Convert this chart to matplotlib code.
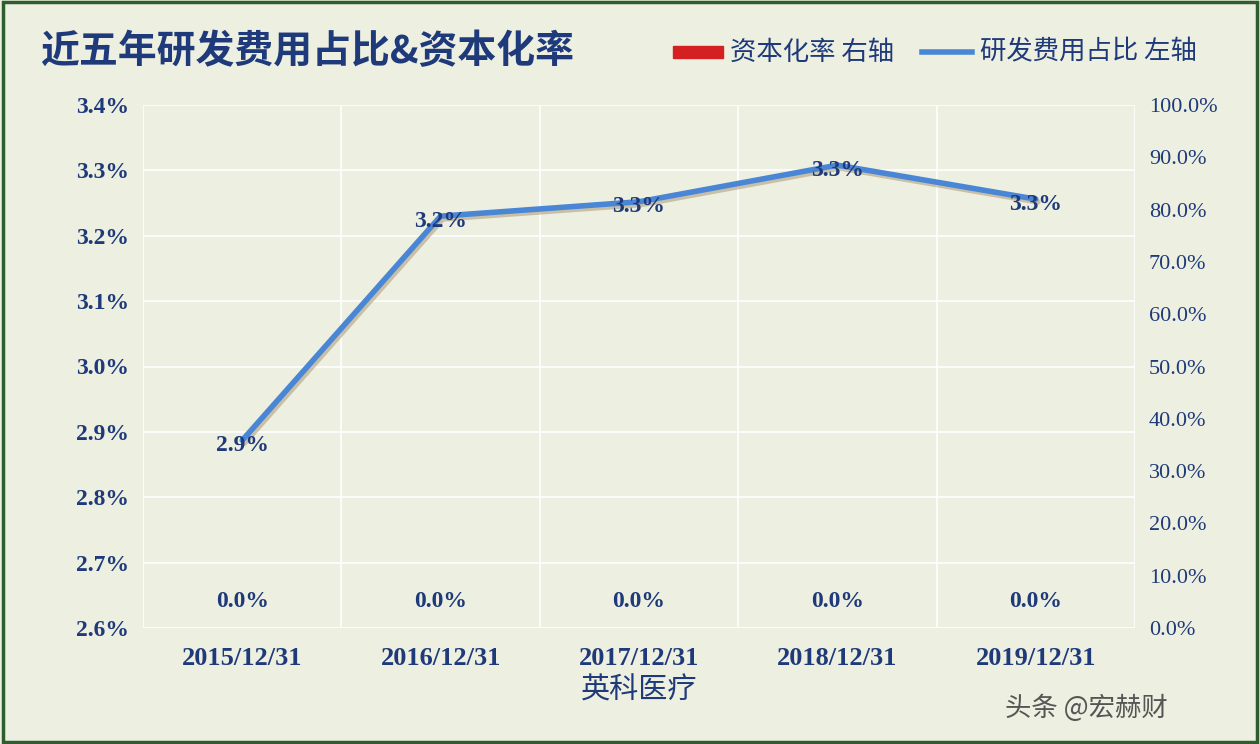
import matplotlib
matplotlib.use("Agg")
import matplotlib.pyplot as plt
import matplotlib.patheffects as pe

categories = ["2015/12/31", "2016/12/31", "2017/12/31", "2018/12/31", "2019/12/31"]
rd_ratio = [2.887, 3.230, 3.252, 3.308, 3.256]   # %, left axis
cap_rate = [0.0, 0.0, 0.0, 0.0, 0.0]              # %, right axis
left_ticks = [2.6, 2.7, 2.8, 2.9, 3.0, 3.1, 3.2, 3.3, 3.4]
right_ticks = [0, 10, 20, 30, 40, 50, 60, 70, 80, 90, 100]

bg = "#EDEFE0"
navy = "#1F3A7A"
blue = "#4A86D6"
serif = ["Liberation Serif", "Noto Sans CJK SC"]
cjk = ["Noto Sans CJK SC", "DejaVu Sans"]

fig = plt.figure(figsize=(12.6, 7.44), dpi=100, facecolor=bg)
fig.patches.append(plt.Rectangle((0.002, 0.003), 0.996, 0.994, transform=fig.transFigure,
                                 fill=False, edgecolor="#2E5E2E", lw=2.5))
ax = fig.add_axes([143/1260, 1-628/744, (1135-143)/1260, (628-105)/744])
ax.set_facecolor(bg)
ax2 = ax.twinx()
x = list(range(len(categories)))

ax2.bar(x, cap_rate, width=0.5, color="#D42020")
for xi, v in zip(x, cap_rate):
    ax2.text(xi, v + 5, f"{v:.1f}%", ha="center", va="center", fontsize=17,
             fontweight="bold", color=navy, family=serif)
ax2.set_ylim(0, 100)
ax2.set_yticks(right_ticks)
ax2.set_yticklabels([f"{t:.1f}%" for t in right_ticks], fontsize=16, color=navy, family=serif)

ax.set_zorder(ax2.get_zorder() + 1)
ax.patch.set_visible(False)
ax.plot(x, rd_ratio, color=blue, lw=4, solid_capstyle="round",
        path_effects=[pe.SimpleLineShadow(offset=(1.5, -2), shadow_color="#B0A080", alpha=0.6), pe.Normal()])
for xi, v in zip(x, rd_ratio):
    ax.text(xi, v - 0.008, f"{v:.1f}%", ha="center", va="center", fontsize=17,
            fontweight="bold", color=navy, family=serif)
ax.set_ylim(2.6, 3.4)
ax.set_yticks(left_ticks)
ax.set_yticklabels([f"{t:.1f}%" for t in left_ticks], fontsize=17, fontweight="bold", color=navy, family=serif)
ax.set_xlim(-0.5, 4.5)
ax.set_xticks(x)
ax.set_xticklabels(categories, fontsize=19, fontweight="bold", color=navy, family=serif)
ax.set_xticks([i - 0.5 for i in range(6)], minor=True)
ax.grid(True, which="minor", axis="x", color="white", lw=1.2)
ax.grid(True, which="major", axis="y", color="white", lw=1.2)
for a in (ax, ax2):
    for s in a.spines.values():
        s.set_visible(False)
    a.tick_params(length=0, pad=10)
ax.tick_params(axis="x", which="both", length=0, pad=14)
ax.set_xlabel("英科医疗", fontsize=21, color=navy, family=cjk, labelpad=4)

fig.text(40/1260, 1-52/744, "近五年研发费用占比&资本化率", fontsize=28, fontweight="bold",
         color=navy, family=cjk, va="center")
# legend
fig.patches.append(plt.Rectangle((673/1260, 1-58/744), 50/1260, 12/744, transform=fig.transFigure, color="#D42020"))
fig.text(730/1260, 1-52/744, "资本化率 右轴", fontsize=19, color=navy, family=cjk, va="center")
fig.lines.append(plt.Line2D([922/1260, 972/1260], [1-52/744, 1-52/744], transform=fig.transFigure, color=blue, lw=4))
fig.text(980/1260, 1-52/744, "研发费用占比 左轴", fontsize=19, color=navy, family=cjk, va="center")
fig.text(1005/1260, 1-708/744, "头条 @宏赫财", fontsize=19, color="#555555", family=cjk, va="center")

fig.savefig("out.png", dpi=100, facecolor=bg)
